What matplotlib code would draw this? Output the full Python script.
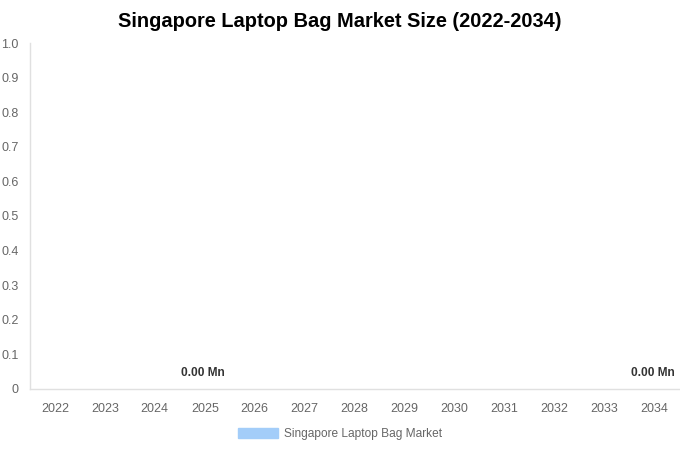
import matplotlib.pyplot as plt
from matplotlib.patches import Patch

plt.rcParams['font.family'] = ['Liberation Sans', 'DejaVu Sans']

years = ['2022', '2023', '2024', '2025', '2026', '2027', '2028',
         '2029', '2030', '2031', '2032', '2033', '2034']
market_size = [0, 0, 0, 0, 0, 0, 0, 0, 0, 0, 0, 0, 0]
labelled_years = ['2025', '2034']
series_name = 'Singapore Laptop Bag Market'

bar_color = '#a3cdf9'
text_color = '#666666'
grid_color = '#e0e0e0'

fig = plt.figure(figsize=(6.8, 4.5), dpi=100)
ax = fig.add_axes([0.044, 0.1356, 0.955, 0.7688])

x = list(range(len(years)))
ax.bar(x, market_size, width=0.7, color=bar_color)

for i, (yr, val) in enumerate(zip(years, market_size)):
    if yr in labelled_years:
        ax.annotate(f'{val:.2f} Mn', (i, val), xytext=(-1.4, 11.5),
                    textcoords='offset points', ha='center', va='center',
                    fontsize=8.6, fontweight='bold', color='#333333')

ax.set_xlim(-0.5, len(years) - 0.5)
ax.set_ylim(0, 1.0)
ax.set_xticks(x)
ax.set_xticklabels(years)
yt = [i / 10 for i in range(11)]
ax.set_yticks(yt)
ax.set_yticklabels(['0'] + [f'{v:.1f}' for v in yt[1:]])
ax.tick_params(axis='both', length=0, labelsize=9, colors=text_color)
ax.tick_params(axis='x', pad=9.8)
ax.tick_params(axis='y', pad=8)

for side in ['top', 'right']:
    ax.spines[side].set_visible(False)
for side in ['left', 'bottom']:
    ax.spines[side].set_color(grid_color)
    ax.spines[side].set_linewidth(1)

fig.text(0.5, 0.953, 'Singapore Laptop Bag Market Size (2022-2034)',
         ha='center', va='center', fontsize=14.4, fontweight='bold',
         color='#000000')

fig.legend(handles=[Patch(color=bar_color, label=series_name)],
           loc='center', bbox_to_anchor=(0.5, 0.036), frameon=False,
           fontsize=8.6, labelcolor=text_color, handlelength=3.4,
           handleheight=0.9, handletextpad=0.5)

fig.savefig('out.png', dpi=100)
